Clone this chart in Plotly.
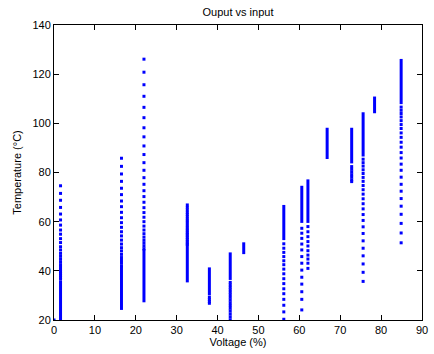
import plotly.graph_objects as go

# Column positions (Voltage %) and the dense part of each temperature column
voltage = [1.6, 16.5, 22.0, 32.6, 38.0, 43.1, 46.4, 56.2, 60.6, 62.1, 66.8, 72.8, 75.6, 78.4, 84.9]
dense_low = [19.0, 24.1, 27.2, 35.3, 30.0, 36.3, 46.8, 52.5, 59.5, 59.5, 85.5, 83.7, 86.5, 104.1, 107.8]
dense_high = [36.0, 42.0, 48.9, 50.8, 41.4, 47.5, 51.6, 66.8, 74.6, 77.2, 98.2, 98.2, 104.5, 110.9, 126.2]

# Individually visible (sparse) samples of each column, in degrees C
sparse = [
    [36.6, 37.3, 38.1, 38.9, 39.7, 40.6, 41.6, 42.5, 43.6, 44.7, 45.9, 47.1, 48.5, 49.8, 51.5,
     53.1, 54.9, 56.6, 58.6, 60.7, 63.1, 65.8, 68.7, 71.5, 74.6],
    [42.0, 43.1, 44.2, 45.4, 46.7, 48.1, 49.4, 50.9, 52.5, 54.2, 55.9, 57.7, 59.6, 61.6, 63.8,
     66.1, 68.4, 71.0, 73.6, 76.4, 79.4, 82.5, 85.8],
    [48.9, 50.0, 51.2, 52.4, 53.7, 55.1, 56.6, 58.2, 60.0, 61.8, 63.7, 65.7, 67.9, 70.2, 72.6,
     75.2, 77.9, 80.9, 84.0, 87.3, 90.8, 94.5, 98.2, 102.3, 106.5, 111.0, 115.7, 120.8, 126.1],
    [50.8, 51.4, 52.1, 52.8, 53.5, 54.2, 54.9, 55.5, 56.3, 57.0, 57.8, 58.6, 59.5, 60.3, 61.1,
     62.0, 62.9, 63.8, 64.8, 65.8, 66.8],
    [26.8, 27.5, 28.3, 29.2],
    [20.1, 21.3, 22.5, 23.7, 24.8, 25.9, 27.0, 28.1, 29.2, 30.3, 31.3, 32.3, 33.3, 34.3, 35.3],
    [],
    [20.3, 23.3, 26.0, 28.4, 30.7, 32.7, 34.8, 36.8, 38.8, 40.7, 42.5, 44.1, 45.8, 47.5, 49.2, 51.0],
    [24.1, 28.4, 31.5, 34.6, 37.4, 40.3, 43.1, 45.8, 48.5, 50.9, 53.2, 55.3, 57.3],
    [41.0, 43.1, 44.8, 46.4, 48.2, 50.1, 51.9, 53.9, 55.9, 58.0],
    [],
    [76.3, 77.0, 78.1, 79.1, 80.2, 81.3, 82.4],
    [35.7, 39.4, 42.8, 46.1, 49.2, 52.2, 55.2, 57.9, 60.5, 62.9, 65.2, 67.3, 69.3, 71.2, 73.0,
     74.7, 76.4, 78.0, 79.6, 81.1, 82.6, 84.0, 85.4],
    [],
    [51.4, 55.4, 59.3, 63.0, 66.3, 69.4, 72.4, 75.2, 78.1, 80.9, 83.4, 85.9, 88.1, 90.3, 92.3,
     94.3, 96.1, 97.9, 99.5, 101.1, 102.6, 104.0, 105.3, 106.6],
]

extra_voltage = [0.0]
extra_temp = [20.0]

x_ticks = [0, 10, 20, 30, 40, 50, 60, 70, 80, 90]
y_ticks = [20, 40, 60, 80, 100, 120, 140]

BLUE = "rgb(0,0,255)"
FONT = "Liberation Sans, Arial, Helvetica, sans-serif"

lx, ly = [], []
for v, lo, hi in zip(voltage, dense_low, dense_high):
    lx += [v, v, None]
    ly += [lo, hi, None]

mx, my = list(extra_voltage), list(extra_temp)
for v, temps in zip(voltage, sparse):
    mx += [v] * len(temps)
    my += temps

fig = go.Figure()
fig.add_trace(go.Scatter(x=lx, y=ly, mode="lines", line=dict(color=BLUE, width=3),
                         hoverinfo="skip", showlegend=False))
fig.add_trace(go.Scatter(x=mx, y=my, mode="markers",
                         marker=dict(color=BLUE, size=3, symbol="square", line=dict(width=0)),
                         showlegend=False))

axis_common = dict(showgrid=False, zeroline=False, ticks="inside", ticklen=5,
                   tickcolor="black", tickwidth=1, showline=True, linecolor="black",
                   linewidth=1, mirror="ticks", ticklabeloverflow="allow",
                   tickfont=dict(family=FONT, size=11, color="black"))

fig.update_layout(
    width=434, height=354,
    margin=dict(l=54, r=6, t=25, b=34),
    paper_bgcolor="white", plot_bgcolor="white",
    font=dict(family=FONT, size=11, color="black"),
    title=dict(text="Ouput vs input", x=0.5, xref="paper", xanchor="center",
               y=1 - 12.5 / 354, yref="container", yanchor="middle",
               font=dict(family=FONT, size=11, color="black")),
    xaxis=dict(range=[0, 90], tickvals=x_ticks, ticktext=[str(t) for t in x_ticks],
               title=dict(text="Voltage (%)", standoff=2, font=dict(family=FONT, size=11)),
               **axis_common),
    yaxis=dict(range=[20, 140], tickvals=y_ticks, ticktext=[str(t) for t in y_ticks],
               title=dict(text="Temperature (°C)", standoff=8, font=dict(family=FONT, size=11)),
               **axis_common),
)

fig.write_html("out.html")
